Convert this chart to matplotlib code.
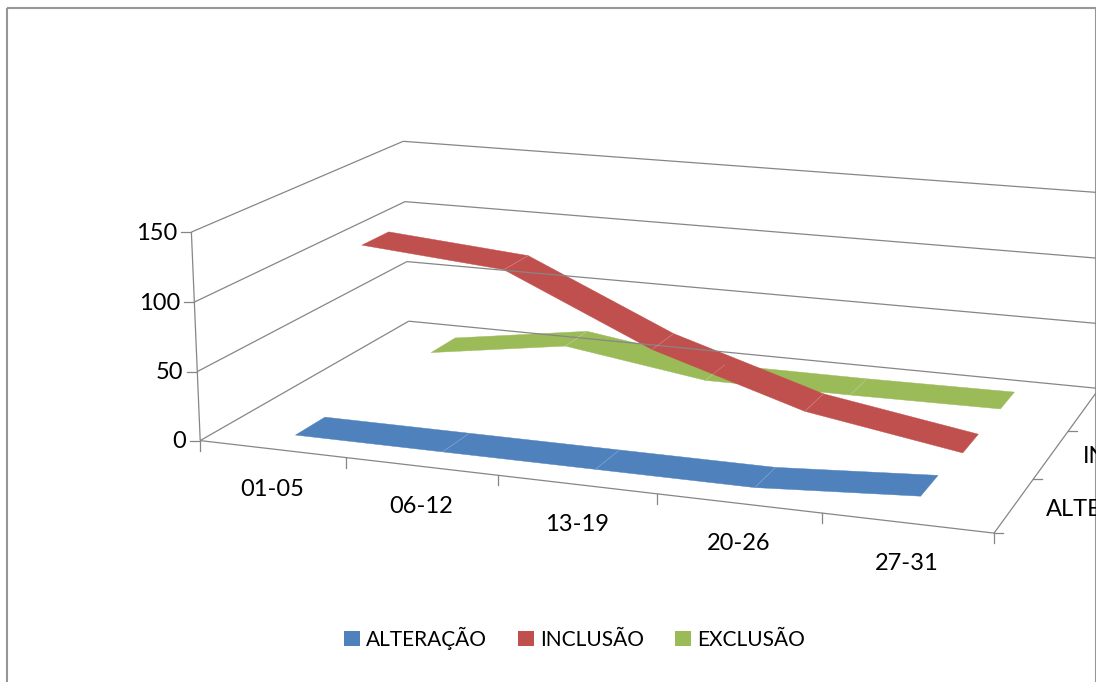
"""3D line chart (ribbons) drawn on a flat axes through a perspective projection.
Saves: out.png
"""
import numpy as np
import matplotlib
matplotlib.use('Agg')
import matplotlib.pyplot as plt
from matplotlib.patches import Patch, Rectangle

categories = ['01-05', '06-12', '13-19', '20-26', '27-31']
series_names = ['ALTERAÇÃO', 'INCLUSÃO', 'EXCLUSÃO']
alteracao = [0, 0, 0, 0, 7]
inclusao = [112, 103, 54, 20, 2]
exclusao = [0, 16, 0, 0, 1]
value_ticks = [0, 50, 100, 150]
colors = ['#4F81BD', '#C0504D', '#9BBB59']

plt.rcParams['font.family'] = ['Lato', 'DejaVu Sans']
GRID = '#868686'
FONT = 17
LEGEND_FONT = 15

# camera: box corners as seen in the picture -> (cat, series, value, px, py)
corners = [(0, 0, 0, 200.7, 440), (0, 3, 0, 408.3, 321), (5, 0, 0, 994.3, 532.7),
           (5, 3, 0, 1099.3, 389.2), (0, 0, 150, 191, 232.3), (0, 3, 150, 404, 141),
           (5, 3, 150, 1099.8, 192.3), (0, 0, 100, 194, 302.7), (0, 3, 100, 405, 201.7),
           (0, 0, 50, 197.3, 371.7), (0, 3, 50, 406.7, 261.7)]
rows = []
for x, y, z, u, v in corners:
    rows.append([x, y, z, 1, 0, 0, 0, 0, -u*x, -u*y, -u*z, -u])
    rows.append([0, 0, 0, 0, x, y, z, 1, -v*x, -v*y, -v*z, -v])
P = np.linalg.svd(np.array(rows, float))[2][-1].reshape(3, 4)


def proj(x, y, z):
    h = P @ np.array([x, y, z, 1.0])
    return h[0] / h[2], h[1] / h[2]


def seg(ax, a, b, lw=0.9, color=GRID, **kw):
    pa, pb = proj(*a), proj(*b)
    ax.plot([pa[0], pb[0]], [pa[1], pb[1]], color=color, lw=lw, solid_capstyle='butt', **kw)


fig = plt.figure(figsize=(10.96, 6.82), dpi=100)
ax = fig.add_axes([0, 0, 1, 1])
ax.set_xlim(0, 1096)
ax.set_ylim(682, 0)
ax.axis('off')

# chart frame, runs off the bottom of the image
frame = Rectangle((7.3, 7.5), 1088.2, 690, fill=False, ec='#969696', lw=1.5, clip_on=True)
ax.add_patch(frame)

# walls and floor
for val in value_ticks:
    seg(ax, (0, 0, val), (0, 3, val))
    seg(ax, (0, 3, val), (5, 3, val))
    px, py = proj(0, 0, val)
    ax.plot([px - 10, px], [py, py], color=GRID, lw=0.9)
    ax.text(px - 14, py + 1, str(val), ha='right', va='center', fontsize=FONT, color='black')
seg(ax, (0, 0, 0), (0, 0, 150))
seg(ax, (0, 0, 0), (5, 0, 0))
seg(ax, (5, 0, 0), (5, 3, 0))

# category ticks and labels
for i in range(len(categories) + 1):
    px, py = proj(i, 0, 0)
    ax.plot([px, px], [py, py + 10], color=GRID, lw=0.9)
for i, name in enumerate(categories):
    px, py = proj(i + 0.5, 0, 0)
    ax.text(px, py + 40.5, name, ha='center', va='center', fontsize=FONT, color='black')

# series ticks and labels, cut off by the frame on the right
for j in range(len(series_names) + 1):
    px, py = proj(5, j, 0)
    ax.plot([px, px + 9], [py, py], color=GRID, lw=0.9, clip_path=frame)
for j, name in enumerate(series_names):
    px, py = proj(5, j + 0.5, 0)
    t = ax.text(px + 32, py + 2, name, ha='left', va='center', fontsize=FONT, color='black')
    t.set_clip_path(frame)

# ribbons, back series first
values = [alteracao, inclusao, exclusao]
for j in [2, 1, 0]:
    vals = values[j]
    y0, y1 = j + 0.3, j + 0.7
    for i in range(len(vals) - 1):
        quad = [proj(i + 0.5, y1, vals[i]), proj(i + 1.5, y1, vals[i + 1]),
                proj(i + 1.5, y0, vals[i + 1]), proj(i + 0.5, y0, vals[i])]
        ax.fill(*zip(*quad), color=colors[j], lw=0.3)
    for i in range(1, len(vals) - 1):
        seg(ax, (i + 0.5, y0, vals[i]), (i + 0.5, y1, vals[i]), lw=0.4, color='#ffffff', alpha=0.3)

handles = [Patch(facecolor=c, edgecolor='none', lw=0, label=n) for c, n in zip(colors, series_names)]
ax.legend(handles=handles, ncol=3, frameon=False, fontsize=LEGEND_FONT, loc='center',
          bbox_to_anchor=(574.5 / 1096, 1 - 638 / 682), handlelength=0.77, handleheight=0.77,
          handletextpad=0.29, columnspacing=1.5, borderpad=0, borderaxespad=0)

fig.savefig('out.png', dpi=100)
plt.close(fig)
